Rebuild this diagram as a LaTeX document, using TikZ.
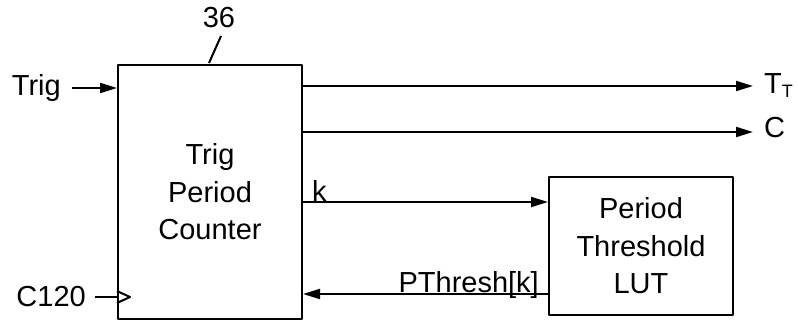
\documentclass[tikz,border=0pt]{standalone}
\usepackage{fontspec}
\setmainfont{Liberation Sans}
\usetikzlibrary{arrows.meta}
\begin{document}
\begin{tikzpicture}[x=1pt, y=-1pt, line join=round,
    wire/.style={line width=2pt},
    sig/.style={wire, -{Triangle[length=17pt, width=10pt]}},
    blk/.style={draw, line width=2pt, align=center, font=\fontsize{29}{37.5}\selectfont},
    lbl/.style={inner sep=0pt, font=\fontsize{29}{35}\selectfont}]
  \useasboundingbox (0,0) rectangle (798,321);

  \node[blk, minimum width=184, minimum height=254] (ctr) at (210,192) {Trig\\Period\\Counter};
  \node[blk, minimum width=184, minimum height=138] (lut) at (641,246) {Period\\Threshold\\LUT};

  \coordinate (tt) at (753,86);
  \coordinate (cc) at (753,132);
  \coordinate (kk) at (lut.west |- 0,202);
  \coordinate (pt) at (lut.west |- 0,294);
  \coordinate (lead) at (221,36);

  \node[lbl, anchor=east] (trig) at (61,88) {Trig};
  \node[lbl, anchor=east] (c120) at (86,297) {C120};
  \node[lbl] (num) at (219,18) {36};
  \node[lbl, anchor=base west] (ttl) at (764,93) {T\raisebox{-5pt}{\fontsize{18}{18}\selectfont T}};
  \node[lbl, anchor=west] (ccl) at (764,128) {C};
  \node[lbl, anchor=base west] (kl) at (312,201) {k};
  \node[lbl, anchor=base east] (pl) at (539,292) {PThresh[k]};

  \draw[sig] ([xshift=11pt]trig.east) -- (trig.east -| ctr.west);
  \draw[wire] ([xshift=9pt]c120.east) -- (c120.east -| ctr.west) coordinate (clk);
  \draw[wire] (clk) ++(0,-6) -- ++(13,6) -- ++(-13,6);
  \draw[wire] (ctr.north) ++(-1,-1) -- (lead);

  \draw[sig] (ctr.east |- tt) -- (tt);
  \draw[sig] (ctr.east |- cc) -- (cc);
  \draw[sig] (ctr.east |- kk) -- (kk);
  \draw[sig] (pt) -- (ctr.east |- pt);
\end{tikzpicture}
\end{document}
